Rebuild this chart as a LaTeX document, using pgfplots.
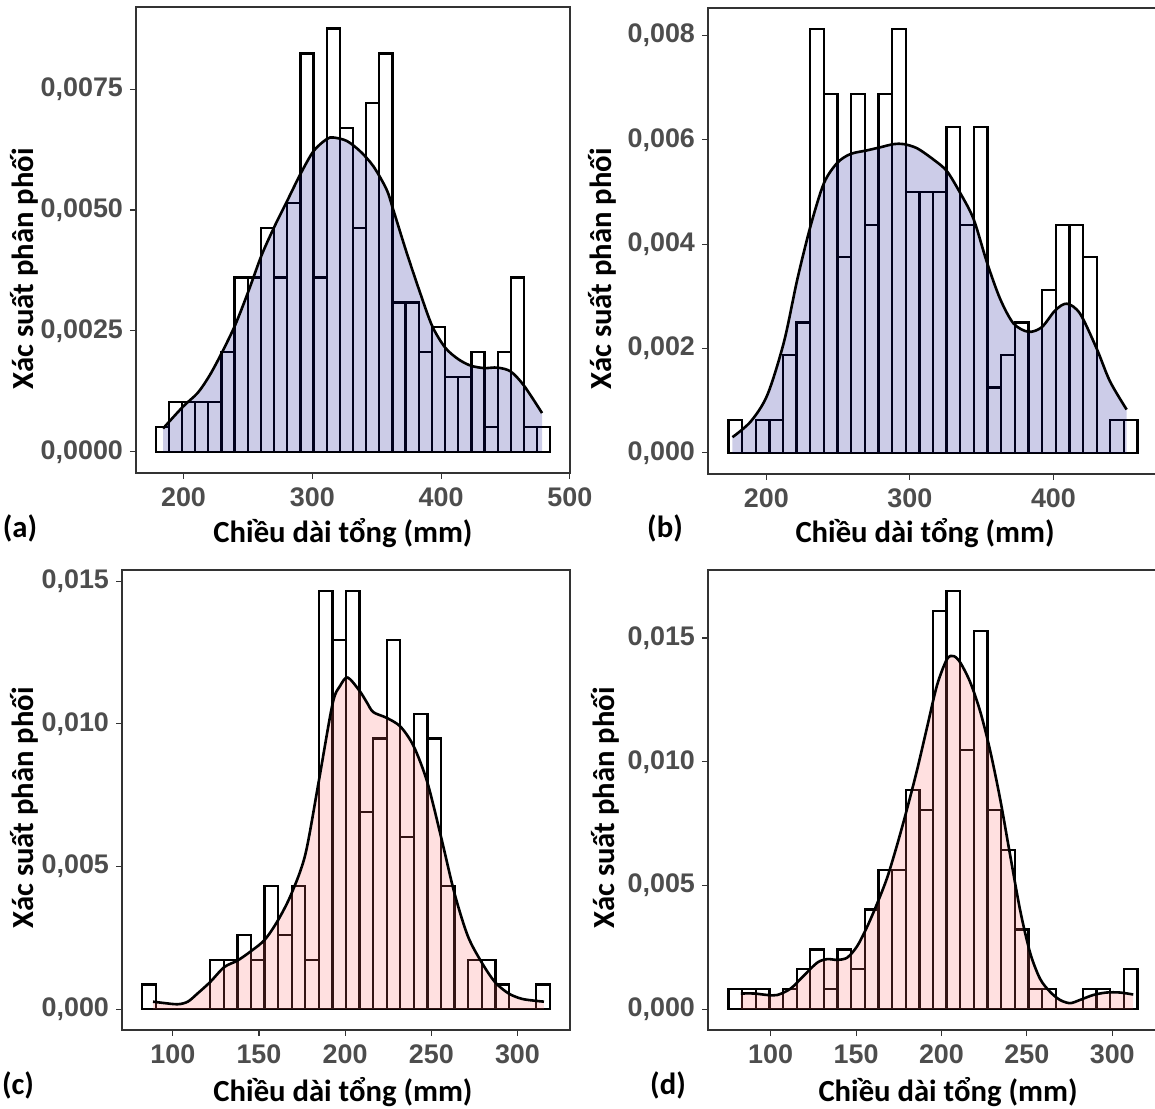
\documentclass[border=0pt]{standalone}
\usepackage{fontspec}
\setmainfont{Carlito}
\newfontfamily\tickfont{Liberation Sans}
\usepackage{pgfplots}
\pgfplotsset{compat=1.18}
\definecolor{tickgray}{RGB}{77,77,77}
\definecolor{framegray}{RGB}{51,51,51}
\definecolor{dblue}{RGB}{0,0,139}
\definecolor{pinkf}{HTML}{FF6666}

\pgfplotsset{
  panel/.style={
    scale only axis, anchor=south west,
    axis line style={draw=framegray, line width=0.55bp},
    tick style={draw=framegray, line width=0.55bp},
    tick align=outside, major tick length=3bp,
    xtick pos=left, ytick pos=left,
    tick label style={font=\tickfont\bfseries\fontsize{13.5}{14}\selectfont, text=tickgray},
    /pgf/number format/assume math mode=true,
    scaled y ticks=false, scaled x ticks=false,
    xticklabel style={/pgf/number format/fixed, /pgf/number format/precision=0, /pgf/number format/1000 sep={}},
    yticklabel style={/pgf/number format/fixed, /pgf/number format/fixed zerofill, /pgf/number format/use comma},
    xticklabel shift=1bp, yticklabel shift=0bp,
  },
  hist/.style={ybar interval, fill=white, draw=black, line width=1.15bp},
  curve/.style={black, line width=1.3bp, smooth},
}
\newcommand{\ttl}{\bfseries\fontsize{15.4}{16}\selectfont}

\begin{document}
\begin{tikzpicture}
\useasboundingbox (0,0) rectangle (577.5bp,554.5bp);

% ---------------- (a) ----------------
\begin{axis}[panel, at={(68bp,318bp)}, width=217bp, height=233bp,
  xmin=163.1, xmax=500.1, ymin=-0.00044, ymax=0.0092,
  xtick={200,300,400,500}, ytick={0,0.0025,0.005,0.0075},
  yticklabel style={/pgf/number format/precision=4}]
\addplot[hist] coordinates {
(178.40,0.000515) (188.61,0.00103) (198.83,0.00103) (209.04,0.00103) (219.25,0.00103)
(229.47,0.00206) (239.68,0.003605) (249.89,0.003605) (260.10,0.004635) (270.32,0.003605)
(280.53,0.00515) (290.74,0.00824) (300.96,0.003605) (311.17,0.008755) (321.38,0.006695)
(331.60,0.004635) (341.81,0.00721) (352.02,0.00824) (362.23,0.00309) (372.45,0.00309)
(382.66,0.00206) (392.87,0.002575) (403.09,0.001545) (413.30,0.001545) (423.51,0.00206)
(433.73,0.000515) (443.94,0.00206) (454.15,0.003605) (464.36,0.000515) (474.58,0.000515)
(484.79,0.000515)};
\addplot[draw=none, fill=dblue, fill opacity=0.2, smooth] coordinates {
(184.1,0.00048) (199.5,0.00093) (211.1,0.00122) (220.3,0.00158) (229.6,0.00204) (240.1,0.00262)
(250.4,0.00332) (260.7,0.00407) (271.0,0.00468) (280.5,0.00519) (290.7,0.00574)
(301.0,0.00622) (311.3,0.00647) (316.5,0.00650) (326.7,0.00643) (337.0,0.00622)
(347.3,0.00591) (357.6,0.00543) (362.7,0.00502) (373.0,0.00414) (383.3,0.00332)
(393.1,0.00260) (403.3,0.00215) (413.6,0.00191) (423.1,0.00178) (433.4,0.00173)
(443.7,0.00174) (454.0,0.00166) (464.3,0.00137) (478.4,0.00080)} \closedcycle;
\addplot[curve] coordinates {
(184.1,0.00048) (199.5,0.00093) (211.1,0.00122) (220.3,0.00158) (229.6,0.00204) (240.1,0.00262)
(250.4,0.00332) (260.7,0.00407) (271.0,0.00468) (280.5,0.00519) (290.7,0.00574)
(301.0,0.00622) (311.3,0.00647) (316.5,0.00650) (326.7,0.00643) (337.0,0.00622)
(347.3,0.00591) (357.6,0.00543) (362.7,0.00502) (373.0,0.00414) (383.3,0.00332)
(393.1,0.00260) (403.3,0.00215) (413.6,0.00191) (423.1,0.00178) (433.4,0.00173)
(443.7,0.00174) (454.0,0.00166) (464.3,0.00137) (478.4,0.00080)};
\end{axis}

% ---------------- (b) ----------------
\begin{axis}[panel, at={(354bp,317.5bp)}, width=225bp, height=233bp,
  xmin=159.35, xmax=472.85, ymin=-0.000406, ymax=0.00853,
  xtick={200,300,400}, ytick={0,0.002,0.004,0.006,0.008},
  yticklabel style={/pgf/number format/precision=3}]
\addplot[hist] coordinates {
(173.6,0.000625) (183.1,0) (192.6,0.000625) (202.1,0.000625) (211.6,0.001875)
(221.1,0.0025) (230.6,0.008125) (240.1,0.006875) (249.6,0.00375) (259.1,0.006875)
(268.6,0.004375) (278.1,0.006875) (287.6,0.008125) (297.1,0.005) (306.6,0.005)
(316.1,0.005) (325.6,0.00625) (335.1,0.004375) (344.6,0.00625) (354.1,0.00125)
(363.6,0.001875) (373.1,0.0025) (382.6,0) (392.1,0.003125) (401.6,0.004375)
(411.1,0.004375) (420.6,0.00375) (430.1,0) (439.6,0.000625) (449.1,0.000625)
(458.6,0.000625)};
\addplot[draw=none, fill=dblue, fill opacity=0.2, smooth] coordinates {
(176.4,0.00030) (189.1,0.00060) (200.7,0.00111) (212.3,0.00213) (221.6,0.00333)
(230.8,0.00435) (240.1,0.00517) (249.4,0.00556) (258.6,0.00573) (270.2,0.00580)
(279.5,0.00586) (288.8,0.00592) (295.7,0.00592) (305.0,0.00584) (316.6,0.00562)
(325.8,0.00540) (335.1,0.00498) (344.4,0.00448) (353.7,0.00365) (362.9,0.00295)
(372.2,0.00248) (382.6,0.00232) (391.9,0.00241) (401.2,0.00273) (409.3,0.00286)
(418.5,0.00267) (430.1,0.00200) (439.4,0.00137) (451.0,0.00083)} \closedcycle;
\addplot[curve] coordinates {
(176.4,0.00030) (189.1,0.00060) (200.7,0.00111) (212.3,0.00213) (221.6,0.00333)
(230.8,0.00435) (240.1,0.00517) (249.4,0.00556) (258.6,0.00573) (270.2,0.00580)
(279.5,0.00586) (288.8,0.00592) (295.7,0.00592) (305.0,0.00584) (316.6,0.00562)
(325.8,0.00540) (335.1,0.00498) (344.4,0.00448) (353.7,0.00365) (362.9,0.00295)
(372.2,0.00248) (382.6,0.00232) (391.9,0.00241) (401.2,0.00273) (409.3,0.00286)
(418.5,0.00267) (430.1,0.00200) (439.4,0.00137) (451.0,0.00083)};
\end{axis}

% ---------------- (c) ----------------
\begin{axis}[panel, at={(61bp,39.5bp)}, width=224bp, height=230bp,
  xmin=70.5, xmax=330.5, ymin=-0.000733, ymax=0.01539,
  xtick={100,150,200,250,300}, ytick={0,0.005,0.01,0.015},
  yticklabel style={/pgf/number format/precision=3}]
\addplot[hist] coordinates {
(82.30,0.000862) (90.18,0) (98.06,0) (105.94,0) (113.82,0)
(121.70,0.001724) (129.58,0.001724) (137.46,0.002586) (145.34,0.001724) (153.22,0.00431)
(161.10,0.002586) (168.98,0.00431) (176.86,0.001724) (184.74,0.014654) (192.62,0.01293)
(200.50,0.014654) (208.38,0.006896) (216.26,0.009482) (224.14,0.01293) (232.02,0.006034)
(239.90,0.010344) (247.78,0.009482) (255.66,0.00431) (263.54,0) (271.42,0.001724)
(279.30,0.001724) (287.18,0.000862) (295.06,0) (302.94,0) (310.82,0.000862)
(318.70,0.000862)};
\addplot[draw=none, fill=pinkf, fill opacity=0.2, smooth] coordinates {
(88.5,0.00026) (95.2,0.00021) (102.9,0.00017) (108.7,0.00026) (114.4,0.00055)
(121.7,0.00095) (129.8,0.00147) (137.5,0.00170) (145.6,0.00204) (153.5,0.00244)
(161.2,0.00313) (168.8,0.00404) (176.9,0.00542) (184.6,0.00795) (192.7,0.01070)
(197.1,0.01133) (201.5,0.01162) (208.3,0.01116) (212.5,0.01076) (216.3,0.01041)
(224.0,0.01021) (232.1,0.00990) (239.8,0.00921) (247.7,0.00795) (255.8,0.00600)
(263.5,0.00405) (271.2,0.00256) (279.2,0.00164) (286.9,0.00095) (294.8,0.00055)
(302.5,0.00036) (310.6,0.00029) (315.4,0.00026)} \closedcycle;
\addplot[curve] coordinates {
(88.5,0.00026) (95.2,0.00021) (102.9,0.00017) (108.7,0.00026) (114.4,0.00055)
(121.7,0.00095) (129.8,0.00147) (137.5,0.00170) (145.6,0.00204) (153.5,0.00244)
(161.2,0.00313) (168.8,0.00404) (176.9,0.00542) (184.6,0.00795) (192.7,0.01070)
(197.1,0.01133) (201.5,0.01162) (208.3,0.01116) (212.5,0.01076) (216.3,0.01041)
(224.0,0.01021) (232.1,0.00990) (239.8,0.00921) (247.7,0.00795) (255.8,0.00600)
(263.5,0.00405) (271.2,0.00256) (279.2,0.00164) (286.9,0.00095) (294.8,0.00055)
(302.5,0.00036) (310.6,0.00029) (315.4,0.00026)};
\end{axis}

% ---------------- (d) ----------------
\begin{axis}[panel, at={(354bp,39.5bp)}, width=225bp, height=230bp,
  xmin=63.3, xmax=326.8, ymin=-0.000845, ymax=0.01775,
  xtick={100,150,200,250,300}, ytick={0,0.005,0.01,0.015},
  yticklabel style={/pgf/number format/precision=3}]
\addplot[hist] coordinates {
(75.30,0.000805) (83.28,0.000805) (91.27,0.000805) (99.25,0) (107.23,0.000805)
(115.22,0.00161) (123.20,0.002415) (131.18,0.000805) (139.16,0.002415) (147.15,0.00161)
(155.13,0.004025) (163.11,0.005635) (171.10,0.005635) (179.08,0.008855) (187.06,0.00805)
(195.05,0.0161) (203.03,0.016905) (211.01,0.010465) (218.99,0.015295) (226.98,0.00805)
(234.96,0.00644) (242.94,0.00322) (250.93,0.000805) (258.91,0.000805) (266.89,0)
(274.88,0) (282.86,0.000805) (290.84,0.000805) (298.82,0) (306.81,0.00161)
(314.79,0.00161)};
\addplot[draw=none, fill=pinkf, fill opacity=0.2, smooth] coordinates {
(82.5,0.00063) (90.3,0.00063) (98.1,0.00057) (103.9,0.00057) (111.7,0.00083)
(119.5,0.00136) (127.3,0.00188) (133.1,0.00202) (139.0,0.00199) (144.8,0.00208)
(150.6,0.00254) (156.5,0.00333) (162.3,0.00426) (168.2,0.00531) (174.0,0.00663)
(179.8,0.00808) (185.7,0.00966) (191.5,0.01137) (197.4,0.01309) (203.2,0.01414)
(207.1,0.01427) (211.0,0.01401) (216.8,0.01322) (222.7,0.01203) (228.5,0.01045)
(234.4,0.00848) (240.2,0.00623) (246.1,0.00399) (251.9,0.00228) (257.7,0.00123)
(263.6,0.00070) (269.4,0.00037) (275.3,0.00024) (281.1,0.00037) (288.9,0.00057)
(296.7,0.00067) (304.5,0.00067) (312.3,0.00059)} \closedcycle;
\addplot[curve] coordinates {
(82.5,0.00063) (90.3,0.00063) (98.1,0.00057) (103.9,0.00057) (111.7,0.00083)
(119.5,0.00136) (127.3,0.00188) (133.1,0.00202) (139.0,0.00199) (144.8,0.00208)
(150.6,0.00254) (156.5,0.00333) (162.3,0.00426) (168.2,0.00531) (174.0,0.00663)
(179.8,0.00808) (185.7,0.00966) (191.5,0.01137) (197.4,0.01309) (203.2,0.01414)
(207.1,0.01427) (211.0,0.01401) (216.8,0.01322) (222.7,0.01203) (228.5,0.01045)
(234.4,0.00848) (240.2,0.00623) (246.1,0.00399) (251.9,0.00228) (257.7,0.00123)
(263.6,0.00070) (269.4,0.00037) (275.3,0.00024) (281.1,0.00037) (288.9,0.00057)
(296.7,0.00067) (304.5,0.00067) (312.3,0.00059)};
\end{axis}

% ---------------- titles and panel letters ----------------
\node[rotate=90, font=\ttl] at (12bp,420bp) {Xác suất phân phối};
\node[rotate=90, font=\ttl] at (301bp,420bp) {Xác suất phân phối};
\node[rotate=90, font=\ttl] at (12bp,150.5bp) {Xác suất phân phối};
\node[rotate=90, font=\ttl] at (302.5bp,150.5bp) {Xác suất phân phối};
\node[font=\ttl] at (171.5bp,288bp) {Chiều dài tổng (mm)};
\node[font=\ttl] at (462.5bp,288bp) {Chiều dài tổng (mm)};
\node[font=\ttl] at (171.5bp,8.5bp) {Chiều dài tổng (mm)};
\node[font=\ttl] at (474bp,8.5bp) {Chiều dài tổng (mm)};
\node[font=\ttl] at (10bp,290.5bp) {(a)};
\node[font=\ttl] at (332.5bp,290.5bp) {(b)};
\node[font=\ttl] at (9bp,12bp) {(c)};
\node[font=\ttl] at (334bp,12bp) {(d)};
\end{tikzpicture}
\end{document}
